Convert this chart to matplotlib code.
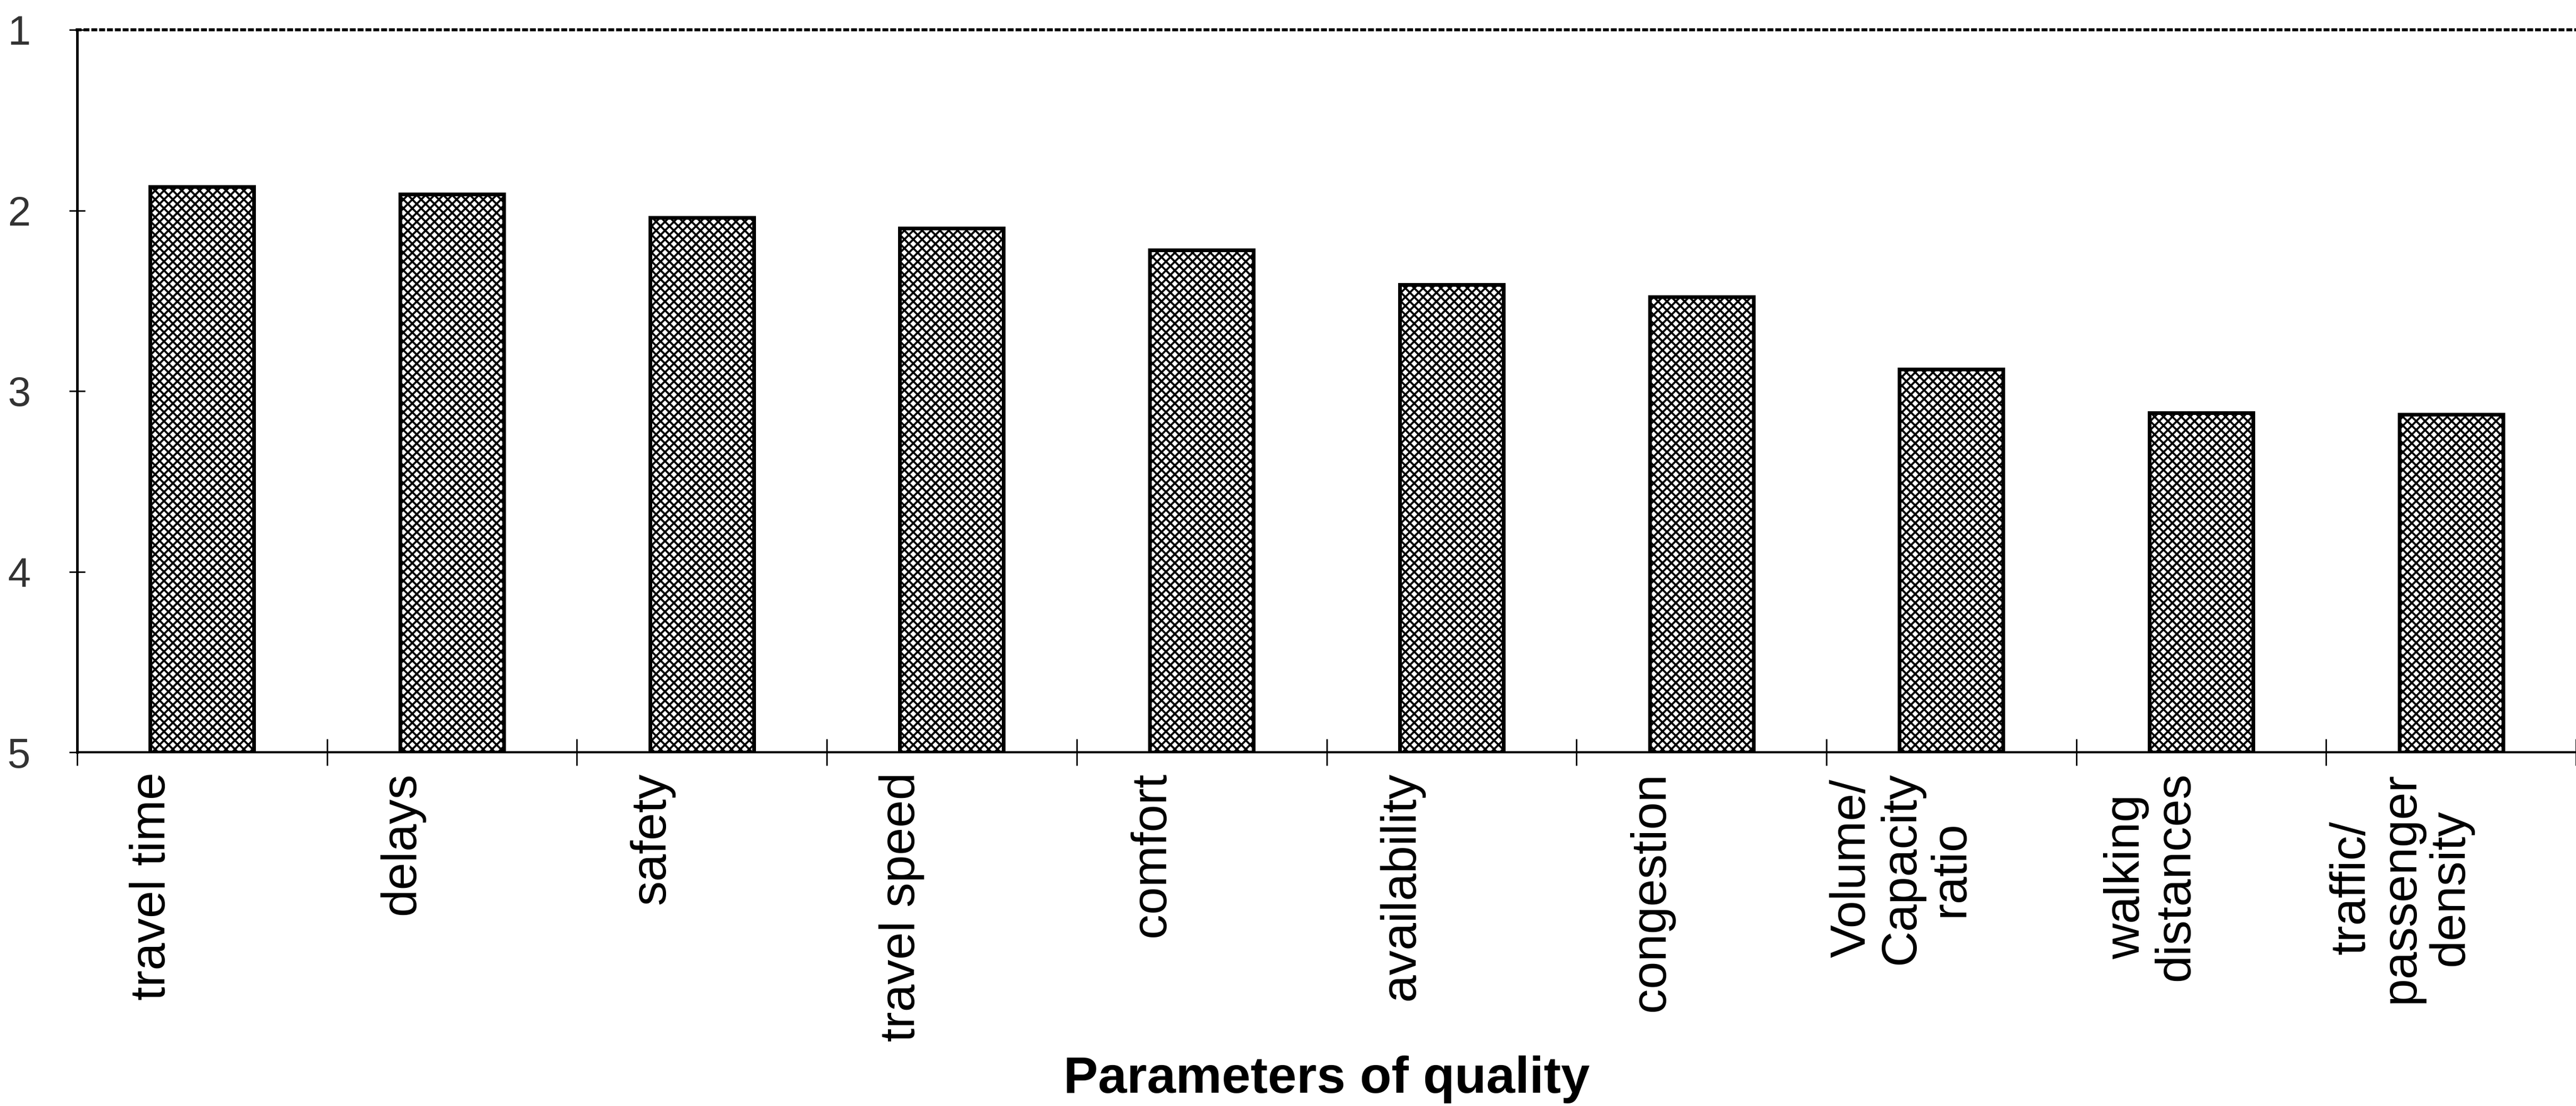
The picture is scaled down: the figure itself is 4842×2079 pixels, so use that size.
import matplotlib
matplotlib.use('Agg')
import matplotlib.pyplot as plt
import numpy as np

# ---- data ----
categories = ["travel time", "delays", "safety", "travel speed", "comfort",
              "availability", "congestion", "Volume/\nCapacity\nratio",
              "walking\ndistances", "traffic/\npassenger\ndensity"]
values = [1.87, 1.91, 2.04, 2.10, 2.22, 2.41, 2.48, 2.88, 3.12, 3.13]
y_ticks = [1, 2, 3, 4, 5]
x_title = "Parameters of quality"

plt.rcParams['hatch.linewidth'] = 2.7
plt.rcParams['font.family'] = ['Liberation Sans', 'DejaVu Sans']

W, H = 4842, 2079
fig = plt.figure(figsize=(W / 100, H / 100), dpi=100)
ax = fig.add_axes([145 / W, 1 - 1414 / H, 1 - 145 / W, (1414 - 56) / H])

x = np.arange(len(categories))
base = y_ticks[-1]
ax.bar(x, np.array(values) - base, bottom=base, width=0.415,
       facecolor='white', edgecolor='black', hatch='xx', linewidth=5)

ax.set_ylim(y_ticks[-1], y_ticks[0])
ax.set_xlim(-0.5, 9.47)

# major ticks at category boundaries
ax.set_xticks(np.arange(-0.5, len(categories), 1.0))
ax.tick_params(axis='x', which='major', direction='inout', length=36, width=2,
               labelbottom=False)
# labels on minor ticks
ax.set_xticks(x - 0.2, labels=categories, minor=True)
ax.tick_params(axis='x', which='minor', length=0, pad=27)
for lab in ax.get_xticklabels(minor=True):
    lab.set_rotation(90)
    lab.set_va('top')
    lab.set_ha('center')
    lab.set_multialignment('center')
    lab.set_linespacing(1.1)
    lab.set_fontsize(67)
    lab.set_fontfamily(['Liberation Sans', 'DejaVu Sans'])

ax.set_yticks(y_ticks)
ax.tick_params(axis='y', direction='inout', length=22, width=2, pad=52,
               labelsize=56, labelcolor='#333333')
for lab in ax.get_yticklabels():
    lab.set_fontfamily(['Liberation Sans Narrow', 'Liberation Sans', 'DejaVu Sans'])

ax.spines['right'].set_visible(False)
ax.spines['top'].set_linestyle(':')
ax.spines['top'].set_linewidth(4)
ax.spines['left'].set_linewidth(3.5)
ax.spines['bottom'].set_linewidth(3)

ax.set_xlabel(x_title, fontsize=70, fontweight='bold')
ax.xaxis.set_label_coords(0.5, -0.453)
ax.xaxis.label.set_va('center')

fig.savefig('out.png', dpi=100)
